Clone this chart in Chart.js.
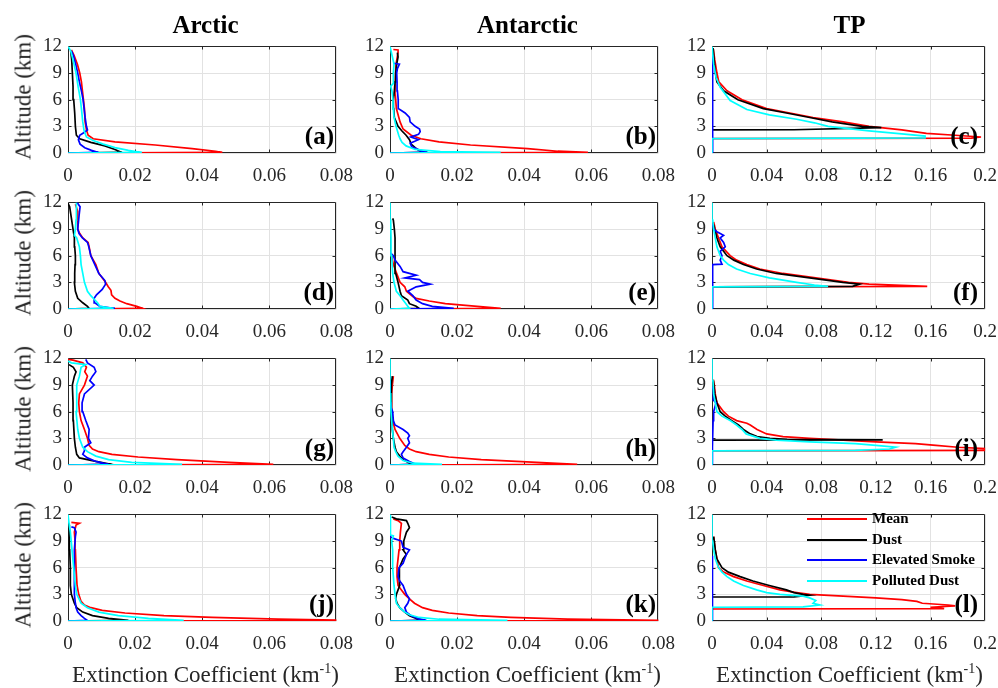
<!DOCTYPE html>
<html><head><meta charset="utf-8">
<script src="https://cdn.jsdelivr.net/npm/chart.js@4.4.0/dist/chart.umd.min.js"></script>
<style>
body{margin:0;background:#fff;width:998px;height:688px;position:relative;overflow:hidden;font-family:"Liberation Serif","Times New Roman",serif;}
canvas{position:absolute;}
.title{position:absolute;top:12px;font-weight:bold;font-size:25px;line-height:1;transform:translateX(-50%);color:#000;white-space:nowrap;}
.ylab{position:absolute;left:23px;font-size:23px;line-height:1;transform:translate(-50%,-50%) rotate(-90deg);color:#262626;white-space:nowrap;}
.xlab{position:absolute;top:663px;font-size:23px;line-height:1;transform:translateX(-50%);color:#262626;white-space:nowrap;}
.xlab sup{font-size:14px;vertical-align:9px;line-height:0;}
.plab{position:absolute;font-weight:bold;font-size:25px;line-height:1;transform:translateX(-100%);color:#000;white-space:nowrap;}
.leg{position:absolute;font-weight:bold;font-size:15px;line-height:1;color:#000;white-space:nowrap;}
.legline{position:absolute;height:2px;}
</style>
</head><body>
<script>
// ---------- DATA : [altitude (km), extinction (km-1)] ----------
const SERIES_NAMES = ['Mean','Dust','Elevated Smoke','Polluted Dust'];
const SERIES_COLORS = ['#ff0000','#000000','#0000ff','#00ffff'];
const COLUMN_TITLES = ['Arctic','Antarctic','TP'];
const PANEL_LABELS = ['a','b','c','d','e','f','g','h','i','j','k','l'];
const POLAR_X_TICKS = [0,0.02,0.04,0.06,0.08];
const TP_X_TICKS = [0,0.04,0.08,0.12,0.16,0.2];
const ALT_TICKS = [0,3,6,9,12];
const X_LABEL = 'Extinction Coefficient (km';
const Y_LABEL = 'Altitude (km)';

// (a)
const a_mean = [[0,0],[0.06,0.046],[0.2,0.044],[0.5,0.037],[0.9,0.026],[1.25,0.014],[1.6,0.0075],[2.0,0.006],[2.6,0.0055],[3.5,0.0051],[5,0.0049],[6,0.0046],[7,0.0043],[8,0.004],[9,0.0035],[10,0.0028],[11,0.0018],[11.6,0.001]];
const a_dust = [[0,0],[0.06,0.016],[0.4,0.014],[0.8,0.011],[1.2,0.0068],[1.6,0.0035],[2.0,0.0025],[3,0.0022],[4.5,0.002],[6,0.0017],[7.5,0.0015],[9,0.0013],[10.5,0.0011],[11.5,0.0008]];
const a_smoke = [[0,0],[0.06,0.009],[0.3,0.007],[0.6,0.005],[1,0.0036],[1.5,0.0031],[2,0.0035],[2.3,0.0048],[2.6,0.0058],[3,0.0055],[4,0.0051],[5,0.0048],[6,0.0045],[7,0.004],[8,0.0034],[9,0.0029],[10,0.0023],[11,0.0016],[11.5,0.001]];
const a_pdust = [[0,0],[0.06,0.022],[0.3,0.018],[0.6,0.014],[1,0.0105],[1.4,0.0075],[1.8,0.0055],[2.5,0.0048],[3.5,0.0044],[5,0.004],[6,0.0037],[7.5,0.003],[9,0.0024],[10.5,0.0015],[11.5,0.0008],[12,0]];
// (b)
const b_mean = [[0,0],[0.06,0.059],[0.2,0.05],[0.5,0.041],[0.9,0.024],[1.25,0.0146],[1.6,0.0092],[2,0.0063],[2.7,0.0039],[3.5,0.003],[5,0.0019],[6.5,0.0016],[8,0.0015],[10,0.0018],[11.3,0.0024],[11.6,0.0024],[11.65,0.001]];
const b_dust = [[0,0],[0.06,0.011],[0.3,0.0085],[0.6,0.0075],[1,0.0063],[1.5,0.0058],[2,0.0048],[2.5,0.0035],[3,0.0024],[4,0.0013],[5,0.0011],[6,0.001],[7,0.0013],[8,0.0015],[9,0.0017],[10,0.002],[10.8,0.0024],[11.3,0.0022]];
const b_smoke = [[0,0],[0.06,0.011],[0.3,0.009],[0.7,0.0065],[1.1,0.006],[1.5,0.0085],[1.8,0.0062],[2.1,0.0085],[2.4,0.009],[2.7,0.0088],[3,0.0075],[3.5,0.006],[4,0.0058],[4.5,0.0045],[5,0.0025],[5.5,0.0024],[6,0.0025],[7,0.0022],[8,0.0021],[9,0.002],[9.5,0.0022],[10,0.0028],[10.1,0.001]];
const b_pdust = [[0,0],[0.06,0.033],[0.15,0.015],[0.4,0.0075],[0.8,0.0048],[1.2,0.0036],[1.6,0.003],[2,0.0026],[3,0.0018],[4,0.0012],[5,0.001],[6,0.0009],[7,0.0006],[7.5,0.0002],[7.8,0.0009],[9,0.001],[10,0.0012],[11,0.0006],[12,0]];
// (c)
const c_mean = [[0,0],[1.62,0],[1.68,0.19],[1.8,0.197],[2.0,0.178],[2.2,0.157],[2.6,0.139],[3,0.115],[3.5,0.096],[4,0.074],[4.5,0.057],[5,0.04],[6,0.022],[7,0.011],[8,0.005],[9,0.0036],[10.5,0.002],[11.7,0.001]];
const c_dust = [[0,0],[2.6,0],[2.62,0.06],[2.85,0.124],[3,0.11],[3.5,0.088],[4,0.0715],[4.5,0.0545],[5,0.0376],[6,0.019],[7,0.0085],[8,0.0036],[9,0.0025],[10.5,0.0015],[11.8,0.0008]];
const c_smoke = [[0,0],[1.7,0],[1.8,0.0006],[4,0.0006],[8,0.0006],[11,0.0005]];
const c_pdust = [[0,0],[1.62,0],[1.7,0.156],[1.9,0.156],[2.15,0.139],[2.5,0.115],[3,0.085],[3.4,0.075],[3.8,0.062],[4.3,0.042],[4.9,0.0255],[5.9,0.0133],[7.4,0.006],[8.5,0.003],[10,0.0012],[12,0]];
// (d)
const d_mean = [[0,0],[0.06,0.0223],[0.3,0.0205],[0.6,0.0175],[0.9,0.0155],[1.2,0.014],[1.6,0.013],[2.1,0.0128],[2.5,0.012],[3,0.0112],[4,0.0092],[5,0.0083],[6,0.0068],[7,0.0063],[7.5,0.006],[8,0.0044],[8.5,0.0035],[9,0.0029],[10,0.0029],[11,0.0029],[11.8,0.0022]];
const d_dust = [[0,0],[0.06,0.0063],[0.3,0.0058],[0.7,0.0044],[1.2,0.0029],[2,0.0022],[3,0.0019],[4,0.002],[5,0.0021],[6,0.0022],[7,0.002],[8,0.0019],[9,0.0015],[10,0.0011],[11.5,0.0005],[11.9,0]];
const d_smoke = [[0,0],[0.06,0.014],[0.3,0.0095],[0.7,0.008],[1.2,0.0078],[1.6,0.0085],[2.2,0.0102],[2.8,0.0112],[3.2,0.011],[4,0.0092],[5,0.008],[6,0.0068],[7,0.0062],[7.5,0.0058],[8,0.0043],[8.5,0.0033],[9,0.0029],[10.5,0.0033],[11.5,0.0036],[12,0.0027]];
const d_pdust = [[0,0],[0.06,0.0136],[0.3,0.0095],[0.7,0.0088],[1.1,0.0078],[1.5,0.0068],[2,0.0058],[3,0.0049],[4,0.0044],[5,0.0039],[6,0.0037],[7,0.0034],[8,0.0026],[8.3,0.0019],[9,0.0022],[10,0.0024],[11,0.0024],[12,0.0026]];
// (e)
const e_mean = [[0,0],[0.06,0.033],[0.3,0.026],[0.6,0.0165],[0.9,0.0117],[1.2,0.0078],[1.4,0.0068],[2,0.0049],[2.5,0.0044],[3,0.003],[4,0.002],[5,0.001],[6,0.0005],[6.3,0]];
const e_dust = [[0,0],[0.06,0.0087],[0.3,0.0078],[0.6,0.0058],[1,0.0053],[1.5,0.0034],[2,0.003],[3,0.0024],[4,0.0017],[5,0.0015],[6,0.0015],[7,0.0015],[8,0.0015],[9,0.0013],[10,0.001],[10.2,0.0008]];
const e_smoke = [[0,0],[0.06,0.019],[0.3,0.0126],[0.6,0.0097],[1,0.0078],[1.5,0.0068],[2,0.0053],[2.5,0.0078],[2.8,0.012],[3.0,0.0097],[3.3,0.0088],[3.5,0.0044],[3.8,0.0078],[4.2,0.0039],[4.8,0.003],[5.5,0.0015],[6,0.001],[6.3,0.0002],[6.5,0]];
const e_pdust = [[0,0],[0.06,0.0058],[0.5,0.0049],[1,0.0039],[1.5,0.003],[2,0.0019],[3,0.0012],[4,0.0008],[6,0.0005],[8,0.0003],[10,0.0002],[12,0]];
// (f)
const f_mean = [[0,0],[2.5,0],[2.55,0.1576],[2.8,0.115],[3,0.1],[3.5,0.076],[4,0.052],[4.5,0.035],[5,0.0255],[5.5,0.018],[6,0.0133],[7,0.0073],[8,0.0048],[9,0.0024],[9.8,0.0012]];
const f_dust = [[0,0],[2.5,0],[2.55,0.103],[2.8,0.108],[3,0.0958],[3.5,0.0715],[4,0.047],[4.5,0.0327],[5,0.023],[5.5,0.016],[6,0.011],[6.5,0.0085],[7,0.006],[8,0.0036],[9,0.0019],[9.5,0.0012]];
const f_smoke = [[0,0],[2.5,0],[2.8,0.0007],[5,0.0007],[5.05,0.0073],[5.5,0.006],[6,0.0073],[6.5,0.006],[7,0.0097],[7.5,0.0085],[8,0.006],[8.3,0.0085],[8.7,0.0036],[9,0.0012],[9.5,0.0005],[9.6,0]];
const f_pdust = [[0,0],[2.5,0],[2.55,0.085],[2.7,0.075],[3,0.062],[3.5,0.042],[4,0.028],[4.5,0.018],[5,0.012],[5.5,0.0085],[6,0.006],[7,0.0036],[8,0.0024],[9,0.0012],[10,0.0005],[12,0]];
// (g)
const g_mean = [[0,0],[0.06,0.0612],[0.3,0.048],[0.6,0.0325],[0.9,0.0209],[1.2,0.0131],[1.5,0.0092],[1.8,0.0073],[2.2,0.0063],[3,0.0058],[4,0.0049],[5,0.0039],[6,0.0034],[7,0.0032],[8,0.0034],[9,0.0049],[10,0.0058],[10.5,0.005],[11,0.0055],[11.5,0.0044],[11.8,0.0015],[11.9,0]];
const g_dust = [[0,0],[0.06,0.013],[0.4,0.0083],[0.8,0.0034],[1.2,0.0026],[2,0.0022],[3,0.0019],[5,0.0016],[7,0.0015],[9,0.0013],[10,0.0019],[10.5,0.0024],[11,0.0016],[11.3,0.0003]];
const g_smoke = [[0,0],[0.06,0.012],[0.4,0.0083],[0.8,0.0058],[1.2,0.0044],[1.6,0.0049],[2,0.0049],[2.5,0.0068],[3,0.0061],[4,0.0063],[5,0.0053],[6,0.0044],[7,0.0042],[8,0.0049],[9,0.0078],[9.5,0.0065],[10,0.0073],[10.5,0.0083],[11,0.0078],[11.5,0.0058],[11.9,0.0053]];
const g_pdust = [[0,0],[0.06,0.034],[0.3,0.019],[0.6,0.0121],[1,0.0083],[1.5,0.0058],[2,0.0044],[3,0.0034],[4,0.0029],[6,0.0024],[8,0.0026],[9,0.0026],[10,0.0034],[11,0.0039],[11.3,0.0053],[11.5,0.001],[11.7,0]];
// (h)
const h_mean = [[0,0],[0.06,0.0558],[0.3,0.0437],[0.6,0.0272],[0.9,0.0175],[1.2,0.0117],[1.5,0.0078],[1.8,0.0058],[2.2,0.0044],[3,0.0029],[3.5,0.0022],[4,0.0015],[5,0.0008],[6,0.0005],[8,0.0005],[9,0.0007],[10,0.001]];
const h_dust = [[0,0],[0.06,0.0073],[0.3,0.0053],[0.6,0.0039],[1,0.0029],[1.5,0.0019],[2,0.0015],[3,0.001],[4,0.0007],[6,0.0005],[8,0.0003],[9,0.0005],[10,0.0007]];
const h_smoke = [[0,0],[0.06,0.0078],[0.4,0.0058],[0.8,0.0039],[1.2,0.0034],[1.5,0.0039],[2,0.0049],[2.5,0.0058],[3,0.0053],[3.3,0.0058],[3.6,0.0053],[4,0.0039],[4.5,0.0015],[5,0.001],[6,0.0008],[6.5,0.0003],[7,0.0002],[8,0.0001],[9.5,0]];
const h_pdust = [[0,0],[0.06,0.0155],[0.2,0.0068],[0.5,0.0039],[1,0.0024],[1.5,0.0017],[2,0.0012],[3,0.001],[4,0.0007],[6,0.0003],[8,0.0002],[10,0],[12,0]];
// (i)
const i_mean = [[0,0],[1.6,0],[1.65,0.22],[1.8,0.205],[2,0.18],[2.2,0.164],[2.4,0.149],[2.6,0.12],[2.8,0.096],[3,0.0715],[3.2,0.052],[3.5,0.04],[4,0.033],[4.5,0.028],[4.7,0.0255],[5,0.018],[5.5,0.012],[6,0.0085],[7,0.0036],[8,0.0024],[9,0.0017],[9.6,0.001]];
const i_dust = [[0,0],[2.79,0],[2.82,0.125],[2.85,0.08],[2.9,0.055],[3,0.0424],[3.2,0.033],[3.5,0.028],[4,0.023],[4.5,0.0194],[5,0.0145],[5.5,0.0097],[6,0.006],[7,0.0036],[8,0.002],[9.5,0.001]];
const i_smoke = [[0,0],[1.7,0],[2,0.0006],[5,0.0008],[6,0.0012],[7,0.003],[7.3,0.001],[8.5,0.001],[8.8,0]];
const i_pdust = [[0,0],[1.6,0],[1.65,0.105],[1.8,0.13],[2,0.1345],[2.2,0.12],[2.4,0.105],[2.6,0.0715],[2.8,0.047],[3,0.035],[3.5,0.025],[4,0.022],[4.5,0.018],[5,0.0133],[5.5,0.0073],[6,0.0036],[7,0.0024],[8,0.0012],[9.5,0.0007],[12,0]];
// (j)
const j_mean = [[0,0],[0.06,0.085],[0.2,0.0626],[0.4,0.043],[0.6,0.0286],[0.9,0.017],[1.2,0.0102],[1.5,0.0068],[1.8,0.0049],[2.2,0.0039],[3,0.0032],[4,0.0027],[6,0.0024],[8,0.0022],[9,0.0021],[10,0.0019],[10.8,0.0024],[11,0.0034],[11.1,0.001]];
const j_dust = [[0,0],[0.06,0.018],[0.3,0.0121],[0.6,0.0073],[1,0.0044],[1.5,0.0026],[2,0.0019],[3,0.001],[4,0.0007],[6,0.0007],[8,0.0005],[10,0.0005],[10.8,0.0003],[11,0]];
const j_smoke = [[0,0],[0.06,0.0058],[0.3,0.0049],[0.6,0.0039],[1,0.0029],[1.5,0.0024],[2,0.0022],[3,0.0019],[4,0.0019],[6,0.0019],[8,0.0019],[9.5,0.0022],[10,0.0024],[10.5,0.0019],[10.6,0.001]];
const j_pdust = [[0,0],[0.06,0.0345],[0.3,0.024],[0.6,0.015],[1,0.0092],[1.5,0.0058],[2,0.0039],[3,0.0026],[4,0.0022],[6,0.0017],[8,0.0012],[10,0.0007],[11,0.0003],[12,0]];
// (k)
const k_mean = [[0,0],[0.06,0.085],[0.2,0.053],[0.4,0.036],[0.6,0.026],[0.9,0.0175],[1.2,0.0126],[1.5,0.0097],[2,0.0073],[2.5,0.0058],[3,0.0044],[3.5,0.0034],[4,0.0024],[5,0.0021],[6,0.0021],[7,0.0024],[8,0.0027],[9,0.0029],[10,0.0031],[11,0.0034],[11.3,0.0024],[11.5,0.001]];
const k_dust = [[0,0],[0.06,0.0097],[0.3,0.0078],[0.6,0.0058],[1,0.0044],[1.5,0.0029],[2,0.0021],[2.5,0.0017],[3,0.0019],[3.5,0.0024],[4,0.0029],[5,0.0027],[6,0.0029],[7,0.0039],[7.5,0.0049],[8,0.0039],[9,0.0041],[10,0.0049],[10.5,0.0058],[11,0.0053],[11.3,0.0049],[11.5,0.0019],[11.7,0.0005]];
const k_smoke = [[0,0],[0.06,0.0107],[0.3,0.0083],[0.6,0.0063],[1,0.0049],[1.5,0.0044],[2,0.0053],[2.5,0.0058],[3,0.0049],[3.5,0.0044],[4,0.0039],[4.5,0.0029],[5,0.0024],[6,0.0027],[6.5,0.0039],[7,0.0044],[7.5,0.0049],[8,0.0058],[8.3,0.0039],[9,0.0034],[9.3,0.001],[9.5,0]];
const k_pdust = [[0,0],[0.06,0.035],[0.2,0.0146],[0.4,0.0087],[0.7,0.0058],[1,0.0044],[1.5,0.0029],[2,0.0019],[3,0.0015],[4,0.0012],[5,0.001],[6,0.0008],[8,0.0008],[9,0.0005],[9.6,0.001],[9.7,0],[10,0.0002],[11,0.0002],[12,0]];
// (l)
const l_mean = [[0,0],[1.35,0],[1.4,0.17],[1.55,0.16],[1.7,0.178],[1.8,0.173],[2,0.154],[2.2,0.15],[2.4,0.139],[2.6,0.12],[2.8,0.096],[3,0.0715],[3.2,0.062],[3.5,0.0497],[4,0.0376],[4.5,0.0255],[5,0.0158],[5.5,0.0085],[6,0.0048],[7,0.0036],[8,0.0024],[9.5,0.0012]];
const l_dust = [[0,0],[2.7,0],[2.72,0.06],[2.9,0.0715],[3,0.0667],[3.2,0.06],[3.5,0.0545],[4,0.042],[4.5,0.03],[5,0.0206],[5.5,0.012],[6,0.0073],[7,0.0036],[8,0.0024],[9.5,0.0012]];
const l_smoke = [[0,0],[1.8,0],[1.85,0.0006],[5,0.0006],[7.3,0.0005],[7.35,0]];
const l_pdust = [[0,0],[1.55,0],[1.6,0.0667],[1.8,0.079],[2,0.074],[2.3,0.076],[2.6,0.0715],[2.8,0.0667],[3,0.0497],[3.2,0.04],[3.5,0.0327],[4,0.023],[4.5,0.0158],[5,0.011],[5.5,0.0073],[6,0.0048],[7,0.0024],[8,0.0012],[9,0.0005],[12,0]];

const PANEL_SERIES = [
  [a_mean,a_dust,a_smoke,a_pdust],[b_mean,b_dust,b_smoke,b_pdust],[c_mean,c_dust,c_smoke,c_pdust],
  [d_mean,d_dust,d_smoke,d_pdust],[e_mean,e_dust,e_smoke,e_pdust],[f_mean,f_dust,f_smoke,f_pdust],
  [g_mean,g_dust,g_smoke,g_pdust],[h_mean,h_dust,h_smoke,h_pdust],[i_mean,i_dust,i_smoke,i_pdust],
  [j_mean,j_dust,j_smoke,j_pdust],[k_mean,k_dust,k_smoke,k_pdust],[l_mean,l_dust,l_smoke,l_pdust]
];

// ---------- LAYOUT ----------
const COL_LEFT = [68,390,712], PLOT_W = 275, PLOT_H = 112, ROW_TOP0 = 41, ROW_STEP = 156;
const PAD_L = 50, PAD_T = 12, PAD_R = 22, PAD_B = 36;
const DRAW_ORDER = [3,2,1,0];
const SERIF = "'Liberation Serif', 'Times New Roman', Times, serif";
Chart.defaults.font.family = SERIF;
const TICK_FONT = {family:SERIF, size:19, weight:'normal'};
const FRAME = '#262626';

function fmt(v){ return v === 0 ? '0' : String(+(+v).toFixed(2)); }

const framePlugin = {
  id:'frame',
  beforeDatasetsDraw(chart){
    const {ctx, chartArea:a, scales} = chart;
    const L = Math.round(a.left)+0.5, R = Math.round(a.right)-0.5, T = Math.round(a.top)+0.5, B = Math.round(a.bottom)-0.5;
    ctx.save();
    ctx.strokeStyle = FRAME; ctx.lineWidth = 1;
    ctx.beginPath();
    ctx.rect(L, T, R-L, B-T);
    scales.x.ticks.forEach(t => {
      const px = Math.round(scales.x.getPixelForValue(t.value))+0.5;
      if (px <= L+1 || px >= R-1) return;
      ctx.moveTo(px, B); ctx.lineTo(px, B-3);
      ctx.moveTo(px, T); ctx.lineTo(px, T+3);
    });
    scales.y.ticks.forEach(t => {
      const py = Math.round(scales.y.getPixelForValue(t.value))+0.5;
      if (py <= T+1 || py >= B-1) return;
      ctx.moveTo(L, py); ctx.lineTo(L+3, py);
      ctx.moveTo(R, py); ctx.lineTo(R-3, py);
    });
    ctx.stroke();
    ctx.restore();
  }
};

function addDiv(cls, html, style){
  const d = document.createElement('div');
  d.className = cls; d.innerHTML = html;
  Object.assign(d.style, style);
  document.body.appendChild(d);
  return d;
}

PANEL_SERIES.forEach((series, idx) => {
  const row = Math.floor(idx/3), col = idx % 3;
  const isTP = col === 2;
  const xTicks = isTP ? TP_X_TICKS : POLAR_X_TICKS;
  const plotLeft = COL_LEFT[col], plotTop = ROW_TOP0 + ROW_STEP*row;
  const cv = document.createElement('canvas');
  const W = PAD_L + PLOT_W + PAD_R, H = PAD_T + PLOT_H + PAD_B;
  cv.width = W; cv.height = H;
  cv.style.left = (plotLeft - PAD_L) + 'px';
  cv.style.top = (plotTop - PAD_T) + 'px';
  cv.style.width = W + 'px'; cv.style.height = H + 'px';
  document.body.appendChild(cv);

  new Chart(cv, {
    type:'scatter',
    data:{ datasets: series.map((pts,k) => ({
      label: SERIES_NAMES[k],
      data: pts.map(p => ({x:p[1], y:p[0]})),
      showLine:true, borderColor:SERIES_COLORS[k], backgroundColor:SERIES_COLORS[k],
      borderWidth:1.7, pointRadius:0, pointHoverRadius:0, tension:0, order:DRAW_ORDER[k]
    }))},
    options:{
      responsive:false, animation:false, devicePixelRatio:1, events:[],
      font:{family:SERIF},
      layout:{padding:{left:0, top:PAD_T, right:PAD_R, bottom:0}},
      plugins:{legend:{display:false}, tooltip:{enabled:false}, title:{display:false}},
      scales:{
        x:{ type:'linear', min:0, max:xTicks[xTicks.length-1],
            afterBuildTicks:s => { s.ticks = xTicks.map(v => ({value:v})); },
            afterFit:s => { s.height = PAD_B; },
            grid:{color:'#e2e2e2', lineWidth:1, drawTicks:false},
            border:{display:false},
            ticks:{padding:12, autoSkip:false, maxRotation:0, color:FRAME, font:TICK_FONT, callback:v => fmt(v)} },
        y:{ type:'linear', min:0, max:12,
            afterBuildTicks:s => { s.ticks = ALT_TICKS.map(v => ({value:v})); },
            afterFit:s => { s.width = PAD_L; },
            grid:{color:'#e2e2e2', lineWidth:1, drawTicks:false},
            border:{display:false},
            ticks:{padding:6, autoSkip:false, color:FRAME, font:TICK_FONT, callback:v => String(v)} }
      }
    },
    plugins:[framePlugin]
  });

  addDiv('plab', '(' + PANEL_LABELS[idx] + ')', {left:(plotLeft + PLOT_W - 9)+'px', top:(plotTop + PLOT_H - 30)+'px'});
  if (col === 0) addDiv('ylab', Y_LABEL, {top:(plotTop + PLOT_H/2)+'px'});
  if (row === 0) addDiv('title', COLUMN_TITLES[col], {left:(plotLeft + PLOT_W/2)+'px'});
  if (row === 3) addDiv('xlab', X_LABEL + '<sup>-1</sup>)', {left:(plotLeft + PLOT_W/2)+'px'});

  if (idx === 11) {
    const lx = plotLeft + 95, ly = plotTop + 10;
    SERIES_NAMES.forEach((name, k) => {
      const y = ly + k*20.5;
      addDiv('legline', '', {left:lx+'px', top:(y-1)+'px', width:'60px', background:SERIES_COLORS[k]});
      addDiv('leg', name, {left:(lx+65)+'px', top:(y-8)+'px'});
    });
  }
});
</script>
</body></html>
